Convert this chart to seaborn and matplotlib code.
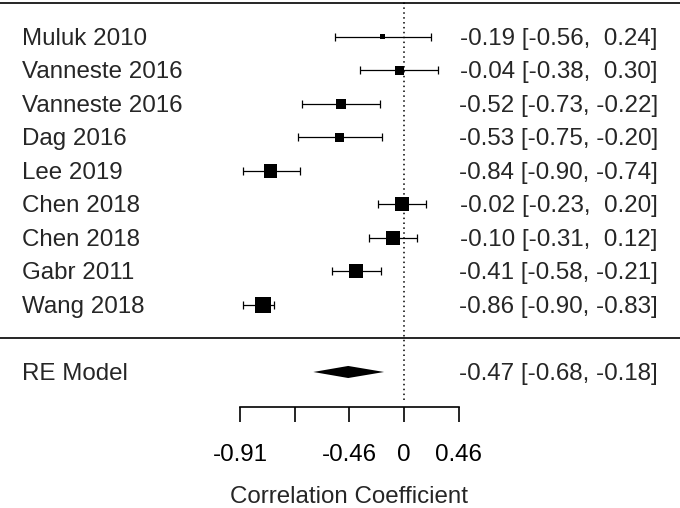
import numpy as np
import pandas as pd
import matplotlib
matplotlib.use("Agg")
import matplotlib.pyplot as plt
import seaborn as sns

sns.set_style("white")
plt.rcParams["font.family"] = ["Liberation Sans", "DejaVu Sans"]

# study data (correlation scale)
studies = ["Muluk 2010", "Vanneste 2016", "Vanneste 2016", "Dag 2016", "Lee 2019",
           "Chen 2018", "Chen 2018", "Gabr 2011", "Wang 2018"]
est = [-0.19, -0.04, -0.52, -0.53, -0.84, -0.02, -0.10, -0.41, -0.86]
ci_lo = [-0.56, -0.38, -0.73, -0.75, -0.90, -0.23, -0.31, -0.58, -0.90]
ci_hi = [0.24, 0.30, -0.22, -0.20, -0.74, 0.20, 0.12, -0.21, -0.83]
weights = [6.9, 9.6, 9.6, 9.1, 12.3, 12.8, 12.8, 12.8, 14.1]

# random-effects summary
re_label = "RE Model"
re_est, re_lo, re_hi = -0.47, -0.68, -0.18

# axis ticks on the Fisher z scale, labels back-transformed
tick_z = [-1.5, -1.0, -0.5, 0.0, 0.5]
tick_labels = ["-0.91", "", "-0.46", "0", "0.46"]
xlabel = "Correlation Coefficient"

FS = 17.4
k = len(studies)
rows = np.arange(k, 0, -1)

df = pd.DataFrame({
    "study": studies,
    "z": np.arctanh(est),
    "lo": np.arctanh(ci_lo),
    "hi": np.arctanh(ci_hi),
    "w": weights,
    "row": rows,
})

# box side (pt) linear in weight, as in metafor
w = np.array(weights)
side_px = 5 + 11 * (w - w.min()) / (w.max() - w.min())
df["s"] = (side_px * 0.72) ** 2

fig = plt.figure(figsize=(6.8, 5.08), dpi=100)
ax = fig.add_axes([0, 0, 1, 1])
ax.set_xlim(-3.695, 2.525)
ax.set_ylim(-5.06, 10.104)

# reference line at 0
ax.vlines(0, -1.84, k + 1.2, colors="black", linestyles=(0, (1, 2.2)), lw=1.1, zorder=1)

# horizontal rules
ax.axhline(k + 1, color="black", lw=1.2)
ax.axhline(0, color="black", lw=1.2)

# confidence intervals
ax.errorbar(df["z"], df["row"], xerr=[df["z"] - df["lo"], df["hi"] - df["z"]],
            fmt="none", ecolor="black", elinewidth=0.9, capsize=2.6, capthick=0.9, zorder=2)

# effect boxes
sns.scatterplot(data=df, x="z", y="row", marker="s", s=df["s"].values, color="black",
                linewidth=0, ax=ax, zorder=3, legend=False)

# summary diamond
zr, zl, zh = np.arctanh([re_est, re_lo, re_hi])
ax.fill([zl, zr, zh, zr], [-1, -1 + 0.18, -1, -1 - 0.18], color="black", lw=0)

# text columns
x_left, x_right = -3.494, 2.323
for r, name, e, lo, hi in zip(rows, studies, est, ci_lo, ci_hi):
    ax.text(x_left, r - 0.23, name, ha="left", va="baseline", fontsize=FS)
    ax.text(x_right, r - 0.23, f"{e:.2f} [{lo:.2f}, {hi:5.2f}]", ha="right", va="baseline", fontsize=FS)
ax.text(x_left, -1 - 0.23, re_label, ha="left", va="baseline", fontsize=FS)
ax.text(x_right, -1 - 0.23, f"{re_est:.2f} [{re_lo:.2f}, {re_hi:5.2f}]", ha="right", va="baseline", fontsize=FS)

# bottom axis
for s in ["top", "left", "right"]:
    ax.spines[s].set_visible(False)
ax.spines["bottom"].set_position(("data", -2.05))
ax.spines["bottom"].set_bounds(tick_z[0], tick_z[-1])
ax.spines["bottom"].set_linewidth(1.2)
ax.spines["bottom"].set_color("black")
ax.set_xticks(tick_z)
ax.set_xticklabels(tick_labels)
ax.set_yticks([])
ax.tick_params(axis="x", direction="out", length=10.8, width=1.2, pad=16, labelsize=FS,
               bottom=True, colors="black")
ax.set_xlabel(xlabel, fontsize=FS, labelpad=14)
xc = (np.mean([tick_z[0], tick_z[-1]]) - ax.get_xlim()[0]) / np.diff(ax.get_xlim())[0]
ax.xaxis.label.set_x(xc)
ax.set_ylabel("")

fig.savefig("out.png", dpi=100)
